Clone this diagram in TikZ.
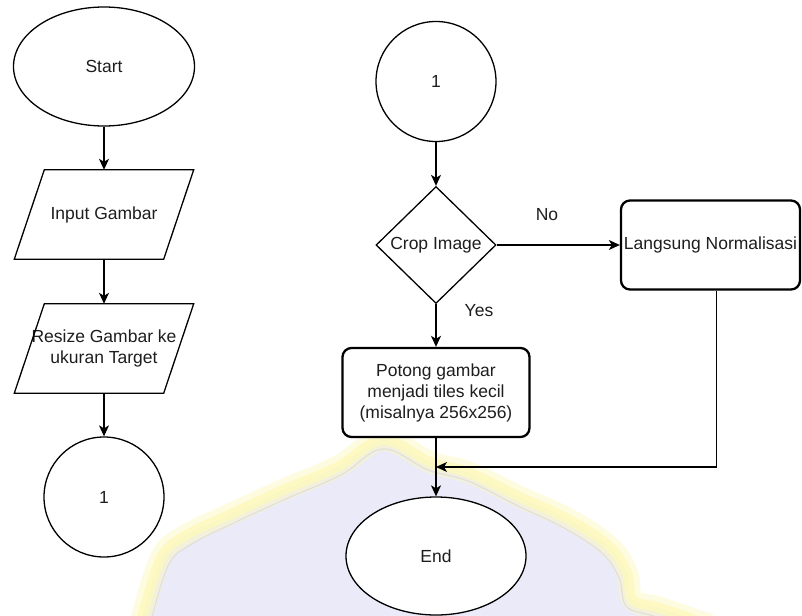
\documentclass[tikz,border=0pt]{standalone}
\usepackage{fontspec}
\setmainfont{Liberation Sans}
\usetikzlibrary{shapes.geometric,arrows.meta,calc}
\definecolor{wmlav}{RGB}{226,226,246}
\definecolor{wmyel}{RGB}{254,249,188}
\definecolor{wmgray}{RGB}{214,212,220}
\definecolor{txtc}{RGB}{30,30,30}
\begin{document}
\begin{tikzpicture}[x=1pt,y=-1pt,
  font=\fontsize{17.5}{21}\selectfont,
  every node/.style={text=txtc},
  shp/.style={draw=black, line width=1.3pt, fill=white, inner sep=0pt, align=center},
  para/.style={minimum width=149pt, minimum height=89pt, inner sep=0pt, align=center},
  rbox/.style={draw=black, line width=2.3pt, rounded corners=9pt, fill=white, minimum width=187pt, minimum height=89pt, align=center, inner sep=0pt},
  arr/.style={draw=black, line width=1.3pt, -{Stealth[length=11pt,width=10pt,inset=3pt]}},
  lbl/.style={inner sep=0pt}]
\useasboundingbox (0,0) rectangle (802,615);
\fill[white] (0,0) rectangle (802,615);
% faint watermark in the background
\fill[wmlav, opacity=0.7] plot[smooth, tension=0.6] coordinates {(140,625) (160,560) (183,537) (233,513) (283,490) (337,467) (383,440) (430,462) (470,473) (520,497) (570,520) (610,547) (627,573) (633,600) (660,608) (710,625)} -- cycle;
\draw[wmyel, opacity=0.45, line width=22pt] plot[smooth, tension=0.6] coordinates {(140,625) (160,560) (183,537) (233,513) (283,490) (337,467) (383,440) (430,462) (470,473) (520,497) (570,520) (610,547) (627,573) (633,600) (660,608) (710,625)};
\draw[wmyel, opacity=0.8, line width=10pt] plot[smooth, tension=0.6] coordinates {(140,625) (160,560) (183,537) (233,513) (283,490) (337,467) (383,440) (430,462) (470,473) (520,497) (570,520) (610,547) (627,573) (633,600) (660,608) (710,625)};
\draw[wmgray, opacity=0.6, line width=1.2pt] plot[smooth, tension=0.6] coordinates {(150,625) (168,566) (190,545) (238,521) (288,498) (341,475) (383,449) (428,470) (468,481) (516,505) (564,528) (602,553) (619,578) (626,606) (650,615) (690,625)};
% left column
\node[shp, ellipse, minimum width=181pt, minimum height=119pt] (start) at (104,66.5) {Start};
\node[para] (in1) at (104,214.5) {Input Gambar};
\draw[line width=1.3pt] ([xshift=-15pt]in1.south west) -- ([xshift=15pt]in1.north west) -- ([xshift=15pt]in1.north east) -- ([xshift=-15pt]in1.south east) -- cycle;
\node[para] (rs) at (104,348.5) {Resize Gambar ke\\ukuran Target};
\draw[line width=1.3pt] ([xshift=-15pt]rs.south west) -- ([xshift=15pt]rs.north west) -- ([xshift=15pt]rs.north east) -- ([xshift=-15pt]rs.south east) -- cycle;
\node[shp, circle, minimum size=120pt] (c1) at (104,497) {1};
% right part
\node[shp, circle, minimum size=120pt] (c2) at (436,81.5) {1};
\node[shp, diamond, aspect=1, minimum width=120pt, minimum height=117pt] (dia) at (436,245) {Crop Image};
\node[rbox] (pot) at (436,392.5) {Potong gambar\\menjadi tiles kecil\\(misalnya 256x256)};
\node[rbox, minimum width=179pt] (lang) at (710.5,245) {Langsung Normalisasi};
\node[shp, ellipse, minimum width=180pt, minimum height=118pt] (end) at (436,556) {End};
\coordinate (mg) at (436,467);
% connectors
\draw[arr] (start) -- (in1);
\draw[arr] (in1) -- (rs);
\draw[arr] (rs) -- (c1);
\draw[arr] (c2) -- (dia);
\draw[arr] (dia) -- (lang);
\draw[arr] (dia) -- (pot);
\draw[arr] (pot) -- (end);
\draw[arr] ([xshift=6pt]lang.south) |- (mg);
% labels
\node[lbl] (no) at (547,215) {No};
\node[lbl] (yes) at (479,311) {Yes};
\end{tikzpicture}
\end{document}
